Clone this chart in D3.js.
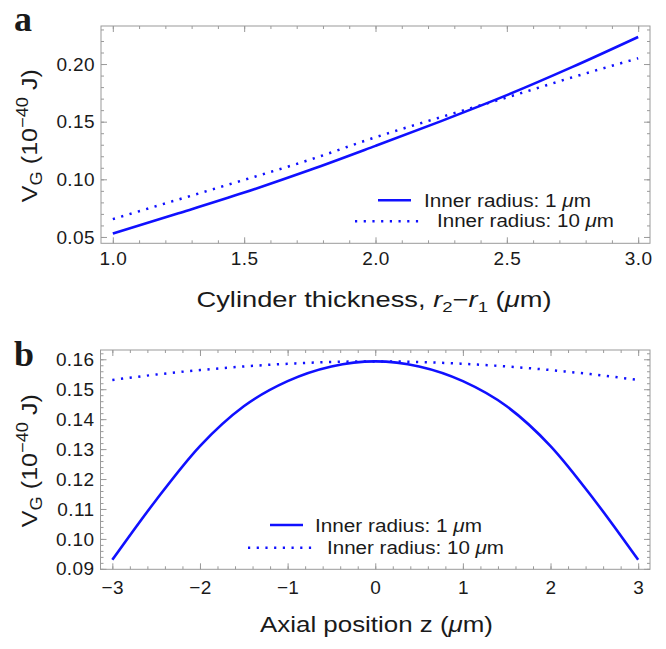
<!DOCTYPE html>
<html>
<head>
<meta charset="utf-8">
<script src="https://cdn.jsdelivr.net/npm/d3@7"></script>
<style>
  body { margin: 0; background: #fff; }
  text { font-family: "Liberation Sans", Arial, sans-serif; fill: #1a1a1a; }
</style>
</head>
<body>
<div id="chart"></div>
<script>

// Panel a: potential vs cylinder thickness
var thickness = [1.0, 1.25, 1.5, 1.75, 2.0, 2.25, 2.5, 2.75, 3.0];
var vgThickR1 = [0.053, 0.0705, 0.0885, 0.108, 0.129, 0.1505, 0.173, 0.1975, 0.2235];
var vgThickR10 = [0.0655, 0.0825, 0.0995, 0.117, 0.1365, 0.154, 0.171, 0.1885, 0.205];

// Panel b: potential vs axial position
var axialZ = [-3, -2.5, -2, -1.5, -1, -0.5, 0, 0.5, 1, 1.5, 2, 2.5, 3];
var vgAxialR1 = [0.093, 0.113, 0.131, 0.1443, 0.1527, 0.1576, 0.1593, 0.1576, 0.1527, 0.1443, 0.131, 0.113, 0.093];
var vgAxialR10 = [0.1531, 0.1549, 0.1564, 0.1576, 0.1585, 0.1591, 0.1593, 0.1591, 0.1585, 0.1576, 0.1564, 0.1549, 0.1531];

// Tick labels
var thicknessTicks = [1.0, 1.5, 2.0, 2.5, 3.0];
var vgTicksA = [0.05, 0.10, 0.15, 0.20];
var axialTicks = [-3, -2, -1, 0, 1, 2, 3];
var vgTicksB = [0.09, 0.10, 0.11, 0.12, 0.13, 0.14, 0.15, 0.16];

var legendRadii = ["1", "10"];

var svgWidth = 666;
var svgHeight = 649;
var lineBlue = "#1010ff";
var frameGray = "#9a9a9a";
var dotDash = "2.2 6.5";

var svg = d3.select("#chart")
  .append("svg")
  .attr("width", svgWidth)
  .attr("height", svgHeight);

function drawPanel(p) {
  var g = svg.append("g");

  var x = d3.scaleLinear().domain(p.xDomain).range([p.left, p.right]);
  var y = d3.scaleLinear().domain(p.yDomain).range([p.bottom, p.top]);

  // Minor + major ticks on all four sides (pointing inward)
  // ==============================
  var sides = [
    { axis: d3.axisBottom, scale: x, pos: `translate(0, ${p.bottom})`, labels: true },
    { axis: d3.axisTop, scale: x, pos: `translate(0, ${p.top})`, labels: false },
    { axis: d3.axisLeft, scale: y, pos: `translate(${p.left}, 0)`, labels: true },
    { axis: d3.axisRight, scale: y, pos: `translate(${p.right}, 0)`, labels: false }
  ];
  sides.forEach(function(s) {
    var isX = s.scale === x;
    var minor = s.axis(s.scale)
      .tickValues(isX ? p.xMinor : p.yMinor)
      .tickSize(-3)
      .tickSizeOuter(0)
      .tickFormat("");
    g.append("g").attr("transform", s.pos).call(minor)
      .call(a => a.select(".domain").remove());

    var major = s.axis(s.scale)
      .tickValues(isX ? p.xTicks : p.yTicks)
      .tickSize(-6)
      .tickSizeOuter(0)
      .tickPadding(isX ? p.xPad : 6)
      .tickFormat(s.labels ? d3.format(isX ? p.xFormat : p.yFormat) : "");
    g.append("g").attr("transform", s.pos).call(major)
      .call(a => a.select(".domain").remove())
      .call(a => a.selectAll("text")
        .attr("fill", "#1a1a1a")
        .style("font-size", "19px")
        .style("letter-spacing", "0.4px")
        .style("font-family", '"Liberation Sans", Arial, sans-serif'));
  });
  g.selectAll(".tick line").attr("stroke", frameGray);

  // Frame
  g.append("rect")
    .attr("x", p.left)
    .attr("y", p.top)
    .attr("width", p.right - p.left)
    .attr("height", p.bottom - p.top)
    .attr("fill", "none")
    .attr("stroke", frameGray)
    .attr("stroke-width", 1);

  // Curves
  // ==============================
  var line = d3.line()
    .x(d => x(d[0]))
    .y(d => y(d[1]))
    .curve(d3.curveMonotoneX);

  g.append("path")
    .datum(d3.zip(p.xs, p.ys10))
    .attr("d", line)
    .attr("fill", "none")
    .attr("stroke", lineBlue)
    .attr("stroke-width", 2.5)
    .attr("stroke-dasharray", dotDash);

  g.append("path")
    .datum(d3.zip(p.xs, p.ys1))
    .attr("d", line)
    .attr("fill", "none")
    .attr("stroke", lineBlue)
    .attr("stroke-width", 2.6);

  // Legend
  // ==============================
  var lg = p.legend;
  g.append("line")
    .attr("x1", lg.solid[0]).attr("x2", lg.solid[1])
    .attr("y1", lg.y1).attr("y2", lg.y1)
    .attr("stroke", lineBlue).attr("stroke-width", 2.6);
  g.append("line")
    .attr("x1", lg.dotted[0]).attr("x2", lg.dotted[1])
    .attr("y1", lg.y2).attr("y2", lg.y2)
    .attr("stroke", lineBlue).attr("stroke-width", 2.5)
    .attr("stroke-dasharray", dotDash);

  [[lg.tx1, lg.y1 + 6.5, legendRadii[0], 167], [lg.tx2, lg.y2 + 6, legendRadii[1], 177]].forEach(function(t) {
    var txt = g.append("text")
      .attr("x", t[0])
      .attr("y", t[1])
      .attr("textLength", t[3])
      .attr("lengthAdjust", "spacingAndGlyphs")
      .style("font-size", "17.5px");
    txt.append("tspan").text("Inner radius: " + t[2] + " ");
    txt.append("tspan").style("font-style", "italic").text("\u03bc");
    txt.append("tspan").text("m");
  });

  // Y axis title: V_G (10^-40 J)
  var yt = g.append("text")
    .attr("transform", `translate(37, ${(p.top + p.bottom) / 2 + 1}) rotate(-90)`)
    .attr("text-anchor", "middle")
    .attr("textLength", 133)
    .attr("lengthAdjust", "spacingAndGlyphs")
    .style("font-size", "22px");
  yt.append("tspan").text("V");
  yt.append("tspan").attr("dy", 5).style("font-size", "16px").text("G");
  yt.append("tspan").attr("dy", -5).text(" (10");
  yt.append("tspan").attr("dy", -9).style("font-size", "16px").text("\u221240");
  yt.append("tspan").attr("dy", 9).text(" J)");

  // X axis title
  var xt = g.append("text")
    .attr("x", p.titleX)
    .attr("y", p.titleY)
    .attr("text-anchor", "middle")
    .attr("textLength", p.titleLen)
    .attr("lengthAdjust", "spacingAndGlyphs")
    .style("font-size", "22px");
  p.xTitle(xt);

  // Panel letter
  g.append("text")
    .attr("x", 14)
    .attr("y", p.letterY)
    .style("font-family", '"Liberation Serif", "Times New Roman", serif')
    .style("font-weight", "bold")
    .style("font-size", "36px")
    .attr("fill", "#000")
    .text(p.letter);
}

drawPanel({
  letter: "a", letterY: 31,
  left: 101, right: 650, top: 26, bottom: 243.3,
  xDomain: [0.955, 3.045], yDomain: [0.0445, 0.233],
  xs: thickness, ys1: vgThickR1, ys10: vgThickR10,
  xTicks: thicknessTicks, yTicks: vgTicksA,
  xMinor: d3.range(10, 31).map(d => d / 10),
  yMinor: d3.range(5, 24).map(d => d / 100),
  xFormat: ".1f", yFormat: ".2f", xPad: 8.5,
  titleX: 374, titleY: 307, titleLen: 355,
  xTitle: function(t) {
    t.append("tspan").text("Cylinder thickness, ");
    t.append("tspan").style("font-style", "italic").text("r");
    t.append("tspan").attr("dy", 5).style("font-size", "15px").text("2");
    t.append("tspan").attr("dy", -5).text("\u2212");
    t.append("tspan").style("font-style", "italic").text("r");
    t.append("tspan").attr("dy", 5).style("font-size", "15px").text("1");
    t.append("tspan").attr("dy", -5).text(" (");
    t.append("tspan").style("font-style", "italic").text("\u03bc");
    t.append("tspan").text("m)");
  },
  legend: { solid: [378, 411], dotted: [355, 420], y1: 200.3, y2: 221.3, tx1: 424, tx2: 437 }
});

drawPanel({
  letter: "b", letterY: 366,
  left: 100.5, right: 650, top: 350, bottom: 569.3,
  xDomain: [-3.135, 3.135], yDomain: [0.08985, 0.1631],
  xs: axialZ, ys1: vgAxialR1, ys10: vgAxialR10,
  xTicks: axialTicks, yTicks: vgTicksB,
  xMinor: d3.range(-15, 16).map(d => d / 5),
  yMinor: d3.range(45, 82).map(d => d / 500),
  xFormat: "d", yFormat: ".2f", xPad: 11.5,
  titleX: 376.5, titleY: 631.5, titleLen: 233,
  xTitle: function(t) {
    t.append("tspan").text("Axial position z (");
    t.append("tspan").style("font-style", "italic").text("\u03bc");
    t.append("tspan").text("m)");
  },
  legend: { solid: [270, 303], dotted: [248, 312], y1: 525, y2: 547.7, tx1: 315, tx2: 327 }
});

</script>
</body>
</html>
